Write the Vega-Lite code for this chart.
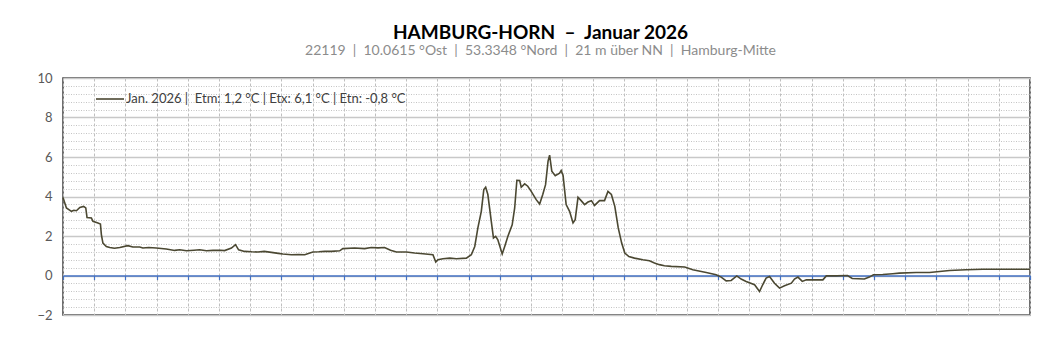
{
  "$schema": "https://vega.github.io/schema/vega-lite/v6.json",
  "autosize": {"type": "none"},
  "padding": {"left": 63, "top": 78, "right": 29, "bottom": 45},
  "width": 967,
  "height": 237,
  "background": "#ffffff",
  "config": {
    "font": "Lato",
    "view": {"stroke": "#3f3f3f", "strokeWidth": 1.5}
  },
  "title": {
    "text": "HAMBURG-HORN\u00a0\u00a0–\u00a0\u00a0Januar 2026",
    "subtitle": "22119\u00a0\u00a0|\u00a0\u00a010.0615 °Ost\u00a0\u00a0|\u00a0\u00a053.3348 °Nord\u00a0\u00a0|\u00a0\u00a021 m über NN\u00a0\u00a0|\u00a0\u00a0Hamburg-Mitte",
    "anchor": "middle",
    "frame": "group",
    "dx": -6,
    "offset": 14,
    "font": "Lato",
    "fontSize": 19,
    "fontWeight": "bold",
    "color": "#000000",
    "subtitleFont": "Lato",
    "subtitleFontSize": 14,
    "subtitleColor": "#8c8c8c",
    "subtitlePadding": 1
  },
  "data": {
    "values": [
      {"t": 0.00, "v": 3.95}, {"t": 0.11, "v": 3.42}, {"t": 0.27, "v": 3.25}, {"t": 0.35, "v": 3.30},
      {"t": 0.43, "v": 3.28}, {"t": 0.54, "v": 3.45}, {"t": 0.66, "v": 3.50}, {"t": 0.73, "v": 3.42},
      {"t": 0.77, "v": 2.94}, {"t": 0.91, "v": 2.91}, {"t": 0.96, "v": 2.74}, {"t": 1.12, "v": 2.66},
      {"t": 1.20, "v": 2.61}, {"t": 1.23, "v": 2.07}, {"t": 1.28, "v": 1.64}, {"t": 1.39, "v": 1.47},
      {"t": 1.50, "v": 1.42}, {"t": 1.65, "v": 1.38}, {"t": 1.82, "v": 1.42}, {"t": 2.08, "v": 1.51},
      {"t": 2.24, "v": 1.44}, {"t": 2.46, "v": 1.44}, {"t": 2.56, "v": 1.39}, {"t": 2.75, "v": 1.42},
      {"t": 2.99, "v": 1.39}, {"t": 3.31, "v": 1.34}, {"t": 3.58, "v": 1.27}, {"t": 3.74, "v": 1.30},
      {"t": 3.96, "v": 1.25}, {"t": 4.20, "v": 1.28}, {"t": 4.38, "v": 1.30}, {"t": 4.60, "v": 1.25},
      {"t": 4.81, "v": 1.27}, {"t": 5.05, "v": 1.28}, {"t": 5.18, "v": 1.26}, {"t": 5.40, "v": 1.39},
      {"t": 5.53, "v": 1.56}, {"t": 5.63, "v": 1.30}, {"t": 5.82, "v": 1.22}, {"t": 6.05, "v": 1.20},
      {"t": 6.25, "v": 1.19}, {"t": 6.45, "v": 1.22}, {"t": 6.68, "v": 1.17}, {"t": 6.90, "v": 1.12},
      {"t": 7.05, "v": 1.09}, {"t": 7.32, "v": 1.05}, {"t": 7.55, "v": 1.06}, {"t": 7.75, "v": 1.05},
      {"t": 8.01, "v": 1.19}, {"t": 8.20, "v": 1.20}, {"t": 8.39, "v": 1.22}, {"t": 8.60, "v": 1.22},
      {"t": 8.87, "v": 1.25}, {"t": 8.97, "v": 1.36}, {"t": 9.35, "v": 1.39}, {"t": 9.67, "v": 1.36},
      {"t": 9.88, "v": 1.42}, {"t": 10.10, "v": 1.40}, {"t": 10.31, "v": 1.42}, {"t": 10.50, "v": 1.28},
      {"t": 10.69, "v": 1.19}, {"t": 11.01, "v": 1.19}, {"t": 11.27, "v": 1.14}, {"t": 11.54, "v": 1.10},
      {"t": 11.86, "v": 1.05}, {"t": 11.95, "v": 0.68}, {"t": 12.02, "v": 0.80}, {"t": 12.18, "v": 0.85},
      {"t": 12.40, "v": 0.88}, {"t": 12.61, "v": 0.85}, {"t": 12.93, "v": 0.88}, {"t": 13.09, "v": 1.05},
      {"t": 13.20, "v": 1.47}, {"t": 13.30, "v": 2.41}, {"t": 13.41, "v": 3.25}, {"t": 13.49, "v": 4.35},
      {"t": 13.55, "v": 4.47}, {"t": 13.62, "v": 4.10}, {"t": 13.73, "v": 2.74}, {"t": 13.80, "v": 1.90},
      {"t": 13.87, "v": 1.98}, {"t": 13.94, "v": 1.81}, {"t": 14.08, "v": 1.09}, {"t": 14.16, "v": 1.47},
      {"t": 14.26, "v": 1.98}, {"t": 14.40, "v": 2.57}, {"t": 14.48, "v": 3.42}, {"t": 14.55, "v": 4.82},
      {"t": 14.64, "v": 4.81}, {"t": 14.69, "v": 4.47}, {"t": 14.80, "v": 4.64}, {"t": 14.90, "v": 4.52},
      {"t": 15.01, "v": 4.26}, {"t": 15.17, "v": 3.84}, {"t": 15.28, "v": 3.62}, {"t": 15.38, "v": 4.10},
      {"t": 15.47, "v": 4.60}, {"t": 15.55, "v": 5.79}, {"t": 15.60, "v": 6.09}, {"t": 15.67, "v": 5.28},
      {"t": 15.78, "v": 5.05}, {"t": 15.92, "v": 5.18}, {"t": 15.97, "v": 5.31}, {"t": 16.03, "v": 5.08},
      {"t": 16.13, "v": 3.59}, {"t": 16.24, "v": 3.25}, {"t": 16.35, "v": 2.66}, {"t": 16.42, "v": 2.83},
      {"t": 16.51, "v": 3.96}, {"t": 16.61, "v": 3.79}, {"t": 16.72, "v": 3.59}, {"t": 16.83, "v": 3.72},
      {"t": 16.94, "v": 3.79}, {"t": 17.04, "v": 3.55}, {"t": 17.20, "v": 3.79}, {"t": 17.36, "v": 3.79},
      {"t": 17.47, "v": 4.26}, {"t": 17.58, "v": 4.10}, {"t": 17.69, "v": 3.50}, {"t": 17.80, "v": 2.41},
      {"t": 17.91, "v": 1.64}, {"t": 18.01, "v": 1.14}, {"t": 18.14, "v": 0.96}, {"t": 18.32, "v": 0.88},
      {"t": 18.59, "v": 0.80}, {"t": 18.80, "v": 0.75}, {"t": 18.96, "v": 0.63}, {"t": 19.12, "v": 0.55},
      {"t": 19.28, "v": 0.49}, {"t": 19.50, "v": 0.46}, {"t": 19.93, "v": 0.43}, {"t": 20.19, "v": 0.29},
      {"t": 20.62, "v": 0.15}, {"t": 20.94, "v": 0.04}, {"t": 21.10, "v": -0.08}, {"t": 21.26, "v": -0.27},
      {"t": 21.42, "v": -0.25}, {"t": 21.60, "v": -0.02}, {"t": 21.74, "v": -0.18}, {"t": 21.90, "v": -0.30},
      {"t": 22.17, "v": -0.47}, {"t": 22.33, "v": -0.81}, {"t": 22.43, "v": -0.47}, {"t": 22.54, "v": -0.13},
      {"t": 22.65, "v": -0.05}, {"t": 22.81, "v": -0.39}, {"t": 22.97, "v": -0.64}, {"t": 23.13, "v": -0.52},
      {"t": 23.35, "v": -0.39}, {"t": 23.45, "v": -0.18}, {"t": 23.56, "v": -0.08}, {"t": 23.70, "v": -0.30},
      {"t": 23.83, "v": -0.22}, {"t": 23.99, "v": -0.22}, {"t": 24.36, "v": -0.22}, {"t": 24.47, "v": -0.02},
      {"t": 24.79, "v": -0.02}, {"t": 25.15, "v": 0.00}, {"t": 25.30, "v": -0.15}, {"t": 25.69, "v": -0.18},
      {"t": 25.85, "v": -0.08}, {"t": 25.98, "v": 0.04}, {"t": 26.28, "v": 0.05}, {"t": 26.60, "v": 0.09},
      {"t": 26.81, "v": 0.12}, {"t": 27.35, "v": 0.15}, {"t": 27.78, "v": 0.15}, {"t": 28.10, "v": 0.20},
      {"t": 28.42, "v": 0.25}, {"t": 28.95, "v": 0.29}, {"t": 29.49, "v": 0.32}, {"t": 30.02, "v": 0.32},
      {"t": 30.56, "v": 0.32}, {"t": 31.00, "v": 0.32}
    ]
  },
  "mark": {"type": "line", "strokeWidth": 1.6, "interpolate": "linear"},
  "encoding": {
    "x": {
      "field": "t",
      "type": "quantitative",
      "scale": {"domain": [0, 31], "nice": false, "zero": false},
      "axis": {
        "title": null,
        "values": [0, 1, 2, 3, 4, 5, 6, 7, 8, 9, 10, 11, 12, 13, 14, 15, 16, 17, 18, 19, 20, 21, 22, 23, 24, 25, 26, 27, 28, 29, 30, 31],
        "labels": false,
        "offset": -39.5,
        "domainColor": "#4472c4",
        "domainWidth": 1.5,
        "tickColor": "#4472c4",
        "tickSize": 4,
        "tickWidth": 1.2,
        "grid": true,
        "gridColor": "#bfbfbf",
        "gridWidth": 1,
        "gridDash": [3, 2]
      }
    },
    "y": {
      "field": "v",
      "type": "quantitative",
      "scale": {"domain": [-2, 10], "nice": false, "zero": false},
      "axis": {
        "title": null,
        "values": [-2, -1.6, -1.2, -0.8, -0.4, 0, 0.4, 0.8, 1.2, 1.6, 2, 2.4, 2.8, 3.2, 3.6, 4, 4.4, 4.8, 5.2, 5.6, 6, 6.4, 6.8, 7.2, 7.6, 8, 8.4, 8.8, 9.2, 9.6, 10],
        "labelExpr": "abs(datum.value - round(datum.value / 2) * 2) < 0.01 ? format(datum.value, 'd') : ''",
        "labelOverlap": false,
        "labelFont": "Lato",
        "labelFontSize": 13,
        "labelColor": "#595959",
        "labelPadding": 11,
        "ticks": false,
        "domain": false,
        "grid": true,
        "gridColor": {"condition": {"test": "abs(datum.value - round(datum.value / 2) * 2) < 0.01", "value": "#c8c8c8"}, "value": "#c4c4c4"},
        "gridWidth": {"condition": {"test": "abs(datum.value - round(datum.value / 2) * 2) < 0.01", "value": 1.6}, "value": 1},
        "gridDash": {"condition": {"test": "abs(datum.value - round(datum.value / 2) * 2) < 0.01", "value": []}, "value": [1, 1.5]}
      }
    },
    "color": {
      "datum": "Jan. 2026 |\u00a0\u00a0Etm: 1,2 °C | Etx: 6,1 °C | Etn: -0,8 °C",
      "type": "nominal",
      "scale": {"range": ["#4b4832"]},
      "legend": {
        "title": null,
        "orient": "none",
        "legendX": 32,
        "legendY": 6,
        "symbolType": "stroke",
        "symbolSize": 784,
        "symbolStrokeWidth": 1.6,
        "labelFont": "Lato",
        "labelFontSize": 13,
        "labelColor": "#404040",
        "labelOffset": 1,
        "labelLimit": 0,
        "padding": 0
      }
    }
  }
}
